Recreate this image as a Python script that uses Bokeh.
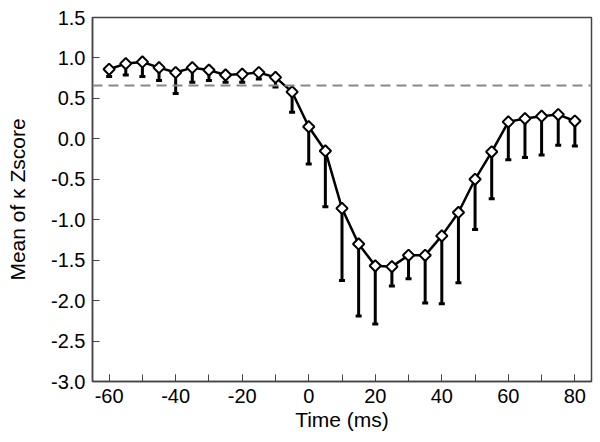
import numpy as np
from bokeh.plotting import figure
from bokeh.models import Range1d, FixedTicker, Span, CustomJSTickFormatter
from bokeh.embed import file_html
from bokeh.resources import INLINE

time_ms = [-60, -55, -50, -45, -40, -35, -30, -25, -20, -15, -10, -5, 0, 5, 10, 15,
           20, 25, 30, 35, 40, 45, 50, 55, 60, 65, 70, 75, 80]
mean_z = [0.86, 0.93, 0.95, 0.88, 0.82, 0.88, 0.85, 0.79, 0.80, 0.82, 0.76, 0.58, 0.15,
          -0.15, -0.86, -1.30, -1.57, -1.58, -1.44, -1.44, -1.20, -0.91, -0.50, -0.16,
          0.21, 0.25, 0.28, 0.30, 0.22]
lower_z = [0.77, 0.79, 0.77, 0.72, 0.56, 0.70, 0.72, 0.70, 0.70, 0.74, 0.64, 0.33, -0.31,
           -0.84, -1.75, -2.19, -2.29, -1.82, -1.73, -2.03, -2.04, -1.78, -1.12, -0.74,
           -0.26, -0.23, -0.20, -0.08, -0.09]
threshold = 0.66

x_ticks = [-60, -40, -20, 0, 20, 40, 60, 80]
x_minor = [-60, -50, -40, -30, -20, -10, 0, 10, 20, 30, 40, 50, 60, 70, 80]
y_ticks = [-3.0, -2.5, -2.0, -1.5, -1.0, -0.5, 0.0, 0.5, 1.0, 1.5]

FONT = "Liberation Sans"

p = figure(width=600, height=442, output_backend="svg", toolbar_location=None,
           x_range=Range1d(-65, 85), y_range=Range1d(-3.0, 1.5),
           min_border_left=92, min_border_right=9, min_border_top=17, min_border_bottom=61)

p.xgrid.visible = False
p.ygrid.visible = False
p.background_fill_color = "white"
p.border_fill_color = "white"
p.outline_line_color = "#444444"
p.outline_line_width = 1.5

p.xaxis.ticker = FixedTicker(ticks=x_ticks, minor_ticks=x_minor)
p.yaxis.ticker = FixedTicker(ticks=y_ticks)
p.xaxis.formatter = CustomJSTickFormatter(code="return tick.toFixed(0);")
p.yaxis.formatter = CustomJSTickFormatter(code="return tick.toFixed(1);")

for ax in (p.xaxis[0], p.yaxis[0]):
    ax.axis_line_color = "#444444"
    ax.axis_line_width = 1.5
    ax.major_tick_line_color = "#444444"
    ax.minor_tick_line_color = "#444444"
    ax.major_tick_line_width = 1
    ax.minor_tick_line_width = 1
    ax.major_tick_in = 7
    ax.major_tick_out = 0
    ax.minor_tick_in = 7
    ax.minor_tick_out = 0
    ax.major_label_text_font = FONT
    ax.major_label_text_font_size = "20px"
    ax.major_label_text_color = "black"
    ax.axis_label_text_font = FONT
    ax.axis_label_text_font_size = "21px"
    ax.axis_label_text_font_style = "normal"
    ax.axis_label_text_color = "black"
    ax.major_label_standoff = 7

p.yaxis.minor_tick_line_color = None
p.xaxis.axis_label = "Time (ms)"
p.yaxis.axis_label = "Mean of \u03ba Zscore"
p.xaxis.axis_label_standoff = 2
p.yaxis.axis_label_standoff = 19

span = Span(location=threshold, dimension="width", line_color="#888888",
            line_width=2, line_dash="10 6")
p.add_layout(span)

p.segment(x0=time_ms, y0=mean_z, x1=time_ms, y1=lower_z, line_color="black", line_width=3)
p.scatter(x=time_ms, y=lower_z, marker="dash", size=6, line_color="black", line_width=3)
p.line(x=time_ms, y=mean_z, line_color="black", line_width=2.5)
p.scatter(x=time_ms, y=mean_z, marker="square", angle=np.pi / 4, size=8,
          fill_color="white", line_color="black", line_width=2)

open("out.html", "w").write(file_html(p, INLINE))
